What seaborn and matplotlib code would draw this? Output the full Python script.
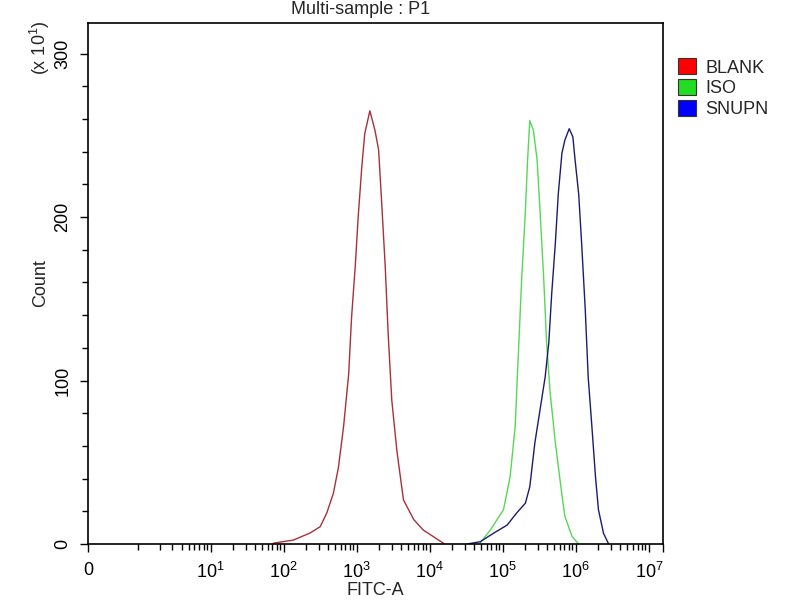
import numpy as np
import pandas as pd
import matplotlib
matplotlib.use("Agg")
import matplotlib.pyplot as plt
from matplotlib.patches import Patch
import seaborn as sns

# FITC-A values and the counts at those points
blank_fitc = [72, 135, 229, 316, 389, 479, 562, 661, 776, 851, 955, 1047, 1175, 1288,
              1514, 1778, 1995, 2188, 2455, 2692, 3020, 3548, 4365, 6026, 8128, 11220, 15490]
blank_count = [0.5, 2.4, 6.7, 10.6, 19, 31, 47, 72, 104, 139, 170, 200, 231, 251,
               265, 253, 241, 210, 170, 129, 88, 57, 27, 15, 8.6, 4.5, 0.4]

iso_fitc = [48980, 67610, 102300, 125900, 147900, 162200, 182000, 204200, 218800, 234400,
            263000, 295100, 323600, 363100, 398100, 446700, 524800, 616600, 707900, 891300, 1096000]
iso_count = [0.6, 8.6, 21, 41, 72, 113, 163, 204, 235, 259,
             253, 235, 204, 163, 123, 92, 62, 37, 17, 4.5, 0]

snupn_fitc = [32360, 48980, 74130, 114800, 154900, 204200, 234400, 275400, 323600, 380200,
              426600, 467700, 524800, 575400, 645700, 707900, 812800, 912000, 977200, 1096000,
              1202000, 1349000, 1479000, 1660000, 1862000, 2042000, 2399000, 2818000]
snupn_count = [0, 1.4, 6.5, 11.6, 19, 25, 35, 62, 82, 102,
               123, 153, 184, 214, 239, 247, 254, 249, 235, 214,
               184, 143, 102, 72, 41, 21, 6.5, 0]

samples = ["BLANK", "ISO", "SNUPN"]
line_colors = ["#a8303a", "#55d855", "#1c1c6e"]
legend_colors = ["#ff0000", "#22dd22", "#0000ff"]

x_ticks = [0, 1e1, 1e2, 1e3, 1e4, 1e5, 1e6, 1e7]
x_ticklabels = ["0", "$10^{1}$", "$10^{2}$", "$10^{3}$", "$10^{4}$", "$10^{5}$", "$10^{6}$", "$10^{7}$"]
y_ticks = [0, 100, 200, 300]

df = pd.concat([
    pd.DataFrame({"FITC-A": blank_fitc, "Count": blank_count, "sample": "BLANK"}),
    pd.DataFrame({"FITC-A": iso_fitc, "Count": iso_count, "sample": "ISO"}),
    pd.DataFrame({"FITC-A": snupn_fitc, "Count": snupn_count, "sample": "SNUPN"}),
])

sns.set_theme(style="ticks")
plt.rcParams["font.family"] = ["Liberation Sans", "DejaVu Sans"]
plt.rcParams["mathtext.fontset"] = "custom"
plt.rcParams["mathtext.rm"] = "Liberation Sans"
plt.rcParams["mathtext.it"] = "Liberation Sans"

# cytometry style axis: linear piece near zero, then log decades
LIN = 0.68


def fwd(x):
    x = np.asarray(x, dtype=float)
    return np.where(x < 1, LIN * x, LIN + np.log10(np.maximum(x, 1)))


def inv(y):
    y = np.asarray(y, dtype=float)
    return np.where(y < LIN, y / LIN, 10 ** (y - LIN))


fig = plt.figure(figsize=(8, 6), dpi=100)
ax = fig.add_axes([0.11, 0.0933, 0.719, 0.8684])

sns.lineplot(data=df, x="FITC-A", y="Count", hue="sample", palette=line_colors,
             hue_order=samples, estimator=None, sort=True, linewidth=1.0,
             legend=False, ax=ax)

ax.set_xscale("function", functions=(fwd, inv))
x_end = float(inv(7.877))
ax.set_xlim(0, x_end)
ax.set_ylim(0, 318.7)

ax.set_xticks(x_ticks + [x_end])
ax.set_xticklabels(x_ticklabels + [""])
minor_x = [m * 10 ** k for k in range(0, 7) for m in range(1, 10) if not (m == 1 and k > 0)]
ax.set_xticks(minor_x, minor=True)

ax.set_yticks(y_ticks)
ax.set_yticklabels([str(v) for v in y_ticks], rotation=90, va="center")
ax.set_yticks(np.arange(0, 320, 20), minor=True)

ax.tick_params(axis="both", which="major", direction="out", length=6, width=1,
               colors="black", labelsize=13)
ax.tick_params(axis="both", which="minor", direction="out", length=4, width=1, colors="black")
ax.tick_params(axis="y", pad=6)
ax.tick_params(axis="x", pad=7)
for s in ax.spines.values():
    s.set_color("black")
    s.set_linewidth(1.2)

ax.set_xlabel("FITC-A", fontsize=13, labelpad=0)
ax.set_ylabel("Count", fontsize=13, labelpad=4)
fig.text(361 / 800, 1 - 9 / 600, "Multi-sample : P1", ha="center", va="center", fontsize=13)
fig.text(40 / 800, 1 - 48 / 600, "(x 10$^{1}$)", rotation=90, ha="center", va="center", fontsize=13)

handles = [Patch(facecolor=c, edgecolor="#333333", linewidth=0.8) for c in legend_colors]
fig.legend(handles, samples, loc="upper left", bbox_to_anchor=(662 / 800, 1 - 42 / 600),
           frameon=False, handlelength=1.0, handleheight=1.0, handletextpad=0.5,
           labelspacing=0.15, fontsize=13)

fig.savefig("out.png", dpi=100)
